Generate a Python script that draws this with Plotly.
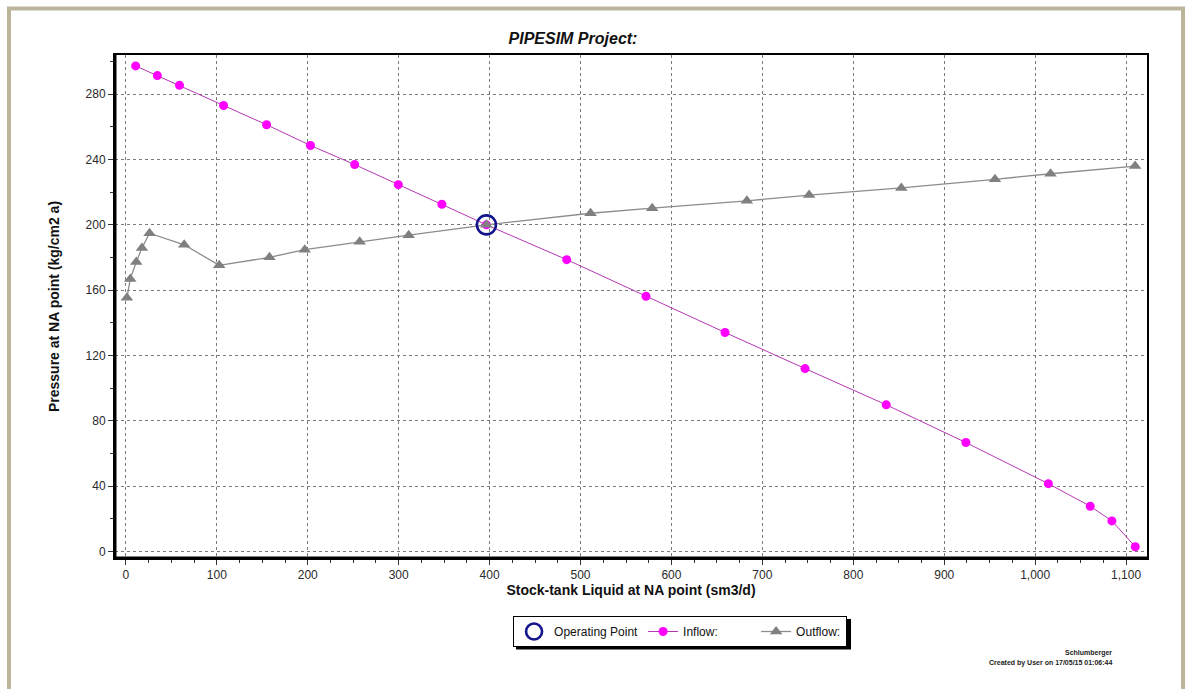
import plotly.graph_objects as go

# Nodal analysis curves: liquid rate (sm3/d) vs pressure (kg/cm2 a)
inflow_rate = [10.7, 34.6, 58.9, 107.4, 154.7, 203.0, 251.6, 299.6, 347.5, 396.5,
               484.8, 572.0, 658.9, 746.9, 836.2, 923.8, 1014.5, 1060.6, 1084.4, 1110.1]
inflow_pressure = [297.3, 291.4, 285.5, 273.1, 261.3, 248.6, 236.9, 224.6, 212.6, 200.0,
                   178.7, 156.3, 134.1, 112.0, 89.8, 66.7, 41.5, 27.7, 18.7, 2.9]

outflow_rate = [1.1, 4.8, 11.4, 17.6, 26.0, 64.1, 102.6, 157.9, 196.7, 257.1,
                311.0, 396.5, 511.0, 578.8, 682.9, 751.4, 852.8, 955.8, 1016.9, 1109.9]
outflow_pressure = [155.3, 166.9, 177.3, 185.8, 194.9, 187.8, 175.2, 180.1, 184.8, 189.6,
                    193.7, 200.0, 207.1, 210.2, 214.7, 218.2, 222.6, 227.9, 231.3, 236.0]

op_rate = [396.5]
op_pressure = [200.0]

x_ticks = [0, 100, 200, 300, 400, 500, 600, 700, 800, 900, 1000, 1100]
y_ticks = [0, 40, 80, 120, 160, 200, 240, 280]

FONT = "Arial, Liberation Sans, sans-serif"

fig = go.Figure()

fig.add_trace(go.Scatter(
    x=inflow_rate, y=inflow_pressure, mode="lines+markers",
    name="Inflow:\u00a0\u00a0\u00a0\u00a0\u00a0\u00a0\u00a0\u00a0\u00a0\u00a0",
    line=dict(color="#b437b4", width=1),
    marker=dict(symbol="circle", size=9, color="#ff00ff"),
    legendrank=2,
))
fig.add_trace(go.Scatter(
    x=outflow_rate, y=outflow_pressure, mode="lines+markers", name="Outflow:",
    line=dict(color="#8c8c8c", width=1.3),
    marker=dict(symbol="triangle-up", size=11, color="#808080"),
    legendrank=3,
))
fig.add_trace(go.Scatter(
    x=op_rate, y=op_pressure, mode="markers", name="Operating Point",
    marker=dict(symbol="circle-open", size=19, color="#14148c", line=dict(width=2.6)),
    legendrank=1,
))

axis_common = dict(
    showline=True, linecolor="black", linewidth=2, mirror=True,
    ticks="outside", ticklen=5, tickcolor="#333", tickwidth=1,
    showgrid=True, gridcolor="#7a7a7a", griddash="3px,3px", gridwidth=1,
    zeroline=False,
    tickfont=dict(family=FONT, size=12, color="#2a2a2a"),
)

fig.update_xaxes(
    **axis_common,
    range=[-12, 1123], tickvals=x_ticks, tickformat=",d",
    minor=dict(dtick=25, tick0=0, ticks="outside", ticklen=3, tickcolor="#333", showgrid=False),
    title=dict(text="<b>Stock-tank Liquid at NA point (sm3/d)</b>", standoff=4,
               font=dict(family=FONT, size=14, color="#111")),
)
fig.update_yaxes(
    **axis_common,
    range=[-4, 304], tickvals=y_ticks,
    minor=dict(dtick=20, tick0=0, ticks="outside", ticklen=3, tickcolor="#333", showgrid=False),
    title=dict(text="<b>Pressure at NA point (kg/cm2 a)</b>", standoff=23,
               font=dict(family=FONT, size=14, color="#111")),
)

shapes = [
    # outer page frame
    dict(type="rect", xref="paper", yref="paper", x0=-0.1027, x1=1.0349, y0=-0.30, y1=1.0924,
         line=dict(color="#bdb59b", width=4), layer="below"),
    # heavier left and bottom plot borders
    dict(type="line", xref="paper", yref="paper", x0=0, x1=0, y0=0, y1=1,
         line=dict(color="black", width=3)),
    dict(type="line", xref="paper", yref="paper", x0=0, x1=1, y0=0, y1=0,
         line=dict(color="black", width=3)),
    # legend drop shadow
    dict(type="rect", xref="paper", yref="paper", x0=0.3886, x1=0.7132, y0=-0.1819, y1=-0.1213,
         fillcolor="black", line=dict(width=0)),
]

annotations = [
    dict(text="<b>Schlumberger</b>", xref="paper", yref="paper", x=0.9685, y=-0.1889,
         xanchor="right", yanchor="middle", showarrow=False,
         font=dict(family=FONT, size=7, color="#222")),
    dict(text="<b>Created by User on 17/05/15 01:06:44</b>", xref="paper", yref="paper",
         x=0.9685, y=-0.2087, xanchor="right", yanchor="middle", showarrow=False,
         font=dict(family=FONT, size=7, color="#222")),
]

fig.update_layout(
    width=1190, height=689,
    margin=dict(l=115, r=43, t=55, b=131),
    paper_bgcolor="white", plot_bgcolor="white",
    title=dict(text="<b><i>PIPESIM Project:</i></b>", x=0.4815, xref="container",
               y=1 - 38 / 689, yref="container", xanchor="center", yanchor="middle",
               font=dict(family=FONT, size=16, color="#111")),
    showlegend=True,
    legend=dict(
        orientation="h", x=0.3857, y=-0.1153, xanchor="left", yanchor="top",
        bgcolor="white", bordercolor="black", borderwidth=1,
        font=dict(family=FONT, size=12, color="#111"),
        itemwidth=30, tracegroupgap=0, itemclick=False,
    ),
    shapes=shapes,
    annotations=annotations,
)

fig.write_html("out.html")
